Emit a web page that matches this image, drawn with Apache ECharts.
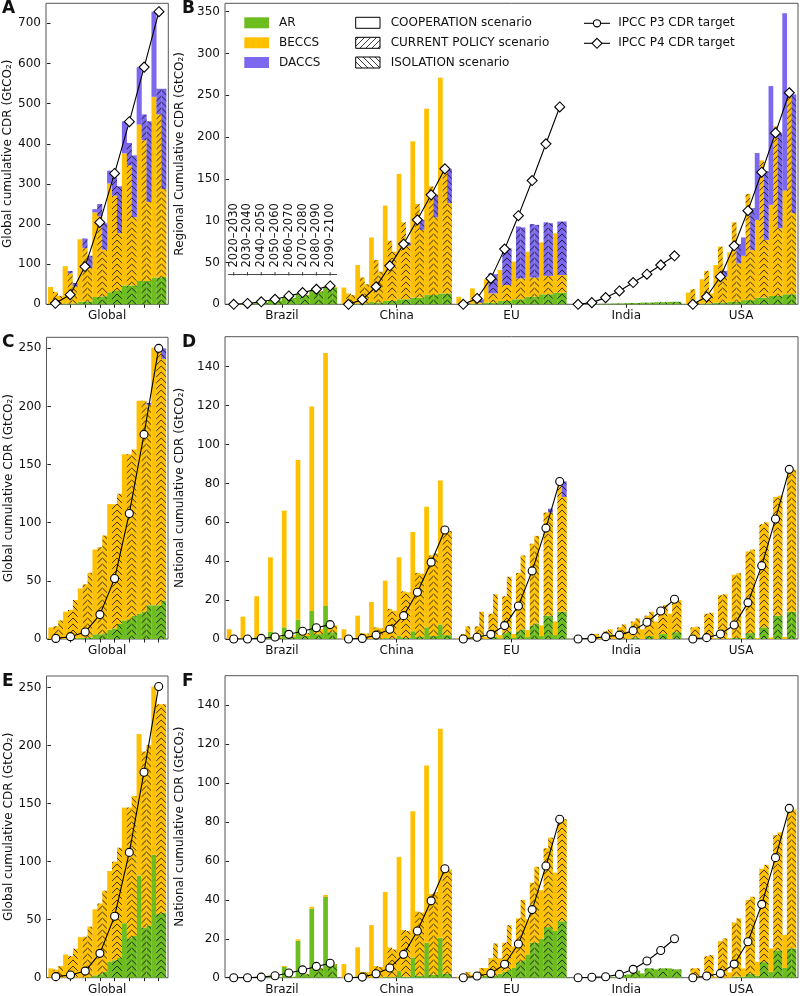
<!DOCTYPE html>
<html><head><meta charset="utf-8">
<script src="https://cdn.jsdelivr.net/npm/echarts@6.0.0/dist/echarts.min.js"></script>
<style>html,body{margin:0;padding:0;background:#fff;}#chart{width:800px;height:996px;}</style>
</head><body><div id="chart"></div>
<script>
// ---------------- categories / labels ----------------
const DECADES = ['2020–2030','2030–2040','2040–2050','2050–2060','2060–2070','2070–2080','2080–2090','2090–2100'];
const REGIONS = ['Brazil','China','EU','India','USA'];
const TECHS = ['AR','BECCS','DACCS'];
const SCENARIOS = ['COOPERATION scenario','CURRENT POLICY scenario','ISOLATION scenario'];
const TARGET_NAMES = ['IPCC P3 CDR target','IPCC P4 CDR target'];
const Y_TICKS_A = [0,100,200,300,400,500,600,700];
const Y_TICKS_B = [0,50,100,150,200,250,300,350];
const Y_TICK_LABELS_B = ['0','50','10','150','200','250','300','350'];
const Y_TICKS_CE = [0,50,100,150,200,250];
const Y_TICKS_DF = [0,20,40,60,80,100,120,140];

// ---------------- values (GtCO2) : [COOPERATION, CURRENT POLICY, ISOLATION] x 8 decades ----------------
// Panel A – Global, P4
const A_Global_AR    = [[1,2,6,18,30,47,58,67],[1,2,7,19,33,47,58,67],[1,2,7,20,35,47,58,68]];
const A_Global_BECCS = [[42,93,156,211,271,329,390,450],[30,75,133,200,238,299,351,406],[20,42,83,116,142,170,197,219]];
const A_Global_DACCS = [[0,0,0,8,32,80,143,212],[0,6,24,31,45,56,64,64],[0,9,31,66,117,154,201,250]];
const A_P4 = [2.5,24,94,204,326,455,591,729];

// Panel B – regional, P4
const B_Brazil_AR    = [[0.5,1,2.5,5,8,12,16,20],[0.3,0.8,2,4.5,7.5,11,15,19],[0.3,0.8,2,4.5,7.5,11,15,19.5]];
const B_Brazil_BECCS = [[0,0,0,0,0.3,0.5,1,1.5],[0,0,0,0,0.2,0.4,0.8,1],[0,0,0,0,0.2,0.4,0.8,1]];
const B_China_AR     = [[0.5,1,3,4,6,8,11,13],[0.5,1,2,4,6,8,11,13],[0.5,1,2,4,6,8,11,13]];
const B_China_BECCS  = [[19.5,46,77,114,150,187,223,258],[12.5,31,51,72,92,112,130,150],[10.5,23,37,59,64,81,93,108]];
const B_China_DACCS  = [[0,0,0,0,0,0,0,0],[0,0,0,0,0,0,0,0],[0,0,0,0,4,12,27,41]];
const B_EU_AR        = [[0.5,1,2,4,6,9,12,14],[0.3,0.5,2,4,6,9,12,14],[0.3,0.5,2,4,6,9,12,14]];
const B_EU_BECCS     = [[8.5,18,28,37,45,54,62,71],[0.7,1.5,11,19,25,23,22,21],[0.7,1.5,11,19,25,23,22,21]];
const B_EU_DACCS     = [[0,0,0,0,0,0,0,0],[1,4,24,45,62,64,64,64],[1,4,23,44,61,63,63,64]];
const B_India_AR     = [[0,0.3,0.6,1,1.5,2,2.5,3],[0,0.3,0.6,1,1.5,2,2.5,3],[0,0.3,0.6,1,1.5,2,2.5,3]];
const B_USA_AR       = [[0.5,1,2,3,5,8,10,12],[0.5,1,2,3,5,8,10,12],[0.5,1,2,3,5,8,10,12]];
const B_USA_BECCS    = [[13.5,29,45,59,53,93,109,124],[17.5,39,67,95,127,164,203,243],[2.5,12,31,46,60,69,81,97]];
const B_USA_DACCS    = [[0,0,0,0,22,80,142,212],[0,0,0,0,0,0,0,0],[0,0,7,23,50,82,114,142]];
const B_P4_Brazil = [0,1,3,6,10,14,18,22];
const B_P4_China  = [0,5.6,21,46,72,101,131,162];
const B_P4_EU     = [0,7,31,66,106,148,192,236];
const B_P4_India  = [0,2,8,16,26,36,47,58];
const B_P4_USA    = [0,9,33,70,112,158,205,253];

// Panel C – Global, P3
const C_Global_AR    = [[0,0,1,4,8,16,22,29],[0,0,1,4,9,17,23.5,29],[0,0.5,1.5,5,13,20,29,33]];
const C_Global_BECCS = [[10,23.5,42.5,73,108,143,183,221.5],[11,25,46,75,107,142,181.5,221.5],[16,33,55.5,84,112,143,172.5,208]];
const C_Global_DACCS = [[0,0,0,0,0,0,0,0],[0,0,0,0,0,0,0,0],[0,0,0,0,0,0,1.5,9]];
const C_P3 = [0.5,2,6,21,52,108,176,250];

// Panel D – national, P3
const D_Brazil_AR    = [[0,0.3,1,3.8,6,10,14.4,17],[0,0,0.2,0.5,1,1.5,2.5,3.5],[0,0,0.2,0.5,1,1.5,2.5,3.5]];
const D_Brazil_BECCS = [[5,11.2,21,38.2,60,82,105.1,130],[0.2,0.3,0.3,0.5,1,1.5,2.5,3.5],[0.2,0.3,0.3,0.5,1,1.5,2.5,3.5]];
const D_China_AR     = [[0,0,0,0.5,1.5,4,6,7.5],[0,0,0,0.3,0.5,1,1.5,2],[0,0,0,0.3,0.5,1,1.5,2]];
const D_China_BECCS  = [[5,12,19,29.5,40.5,51,62,74],[0.3,3,6,15.2,24,33,41.5,54],[0.3,2.8,5.5,14.2,23.5,32.5,42.5,53.5]];
const D_EU_AR        = [[0,0,0,0.3,0.5,1,1.5,2],[0,0,0.5,3,4,7,12,14],[0,0.3,1,4,5,8,12,14]];
const D_EU_BECCS     = [[0.5,1,1.2,1.7,2.1,3.6,5.5,7],[2.5,6.5,12.5,19,30,42,53,67],[6.5,13.7,22,28,38,45,53,59]];
const D_EU_DACCS     = [[0,0,0,0,0,0,0,0],[0,0,0,0,0,0,0,0],[0,0,0,0,0,0,2,8]];
const D_India_AR     = [[0,0,0,0,0,0,0,0],[0,0,0,0.3,0.8,1.5,2.5,3.5],[0,0,0,0.3,0.8,1.5,2.5,3.5]];
const D_India_BECCS  = [[0,0.5,1,2,3,5,9,13],[0.2,2,4,5.7,8.2,10.5,13.5,16.5],[0.5,2.6,5,7.2,9.8,12.5,15,16.5]];
const D_USA_AR       = [[0,0,0,0,0,0,0,0],[0,0,0,0.5,3,6,12,14],[0,0,0,0.5,3,6,12,14]];
const D_USA_BECCS    = [[0,0,0.2,0.3,0.5,0.5,0.8,1],[6,13,22.5,32.5,42,53,61,72.5],[6.3,13.5,23,33.3,43,54,61.7,73]];
const D_P3_Brazil = [0,0,0.3,1,2.4,4,5.8,7.4];
const D_P3_China  = [0,0.3,2,5,12,24,39.5,56];
const D_P3_EU     = [0,0.9,2.4,6.9,17,35,57,81];
const D_P3_India  = [0,0.3,1.2,2,4.3,8.6,14.4,20.4];
const D_P3_USA    = [0,0.7,2.6,7.2,18.7,37.7,61.7,87.2];

// Panel E – Global, P3
const E_Global_AR    = [[0,0,0,2,14,47,88,106],[0,0,0,3,15,34,43,55],[0,0,0.5,5,17,36,45,56]];
const E_Global_BECCS = [[8,20,35,57,78,99.6,122,145],[7,18.7,35.4,61,85,112.6,152,180.7],[10,25,43.5,70,95,120.6,155.6,179.7]];
const E_P3 = [0.9,2.3,5.7,21,53,108,177,251];

// Panel F – national, P3
const F_Brazil_AR    = [[0,0,0.3,0.7,5.5,19,35.5,41.5],[0,0,0,0.2,0.4,1.8,4.2,6.5],[0,0,0,0.2,0.4,1.8,4.7,6.5]];
const F_Brazil_BECCS = [[0,0,0.2,0.3,0.5,0.7,1,1],[0,0,0,0.1,0.1,0.2,0.3,0.5],[0,0,0,0.1,0.1,0.2,0.3,0.5]];
const F_China_AR     = [[0,0,0,0.5,3.4,10.4,18,20.5],[0,0,0,0.3,0.5,1,1.5,2],[0,0,0,0.3,0.5,1,1.5,2]];
const F_China_BECCS  = [[7,15.6,27,43.5,58.6,75.2,91,107.5],[0.3,3,6,15.2,24,33,41.5,54],[0.3,2.8,5.5,14.2,23.5,32.5,42.5,53.5]];
const F_EU_AR        = [[0,0.3,1,2,5,12,20,24],[0,0,0.5,3,8,18,26,29],[0,0.3,1,4,9,18,26,29]];
const F_EU_BECCS     = [[0.5,1.2,4,8,11,18,25,30],[1.5,3,9.5,15,22.5,30.8,40.5,52.4],[3,4.7,16.6,23,31,39,46,52.4]];
const F_India_AR     = [[0,0,0,0.5,1.7,2.2,4.3,4.8],[0,0,0.2,1.4,3.6,4.8,4.8,4.3],[0,0,0.2,1.4,3.6,4.8,4.8,4.3]];
const F_USA_AR       = [[0,0,0,0,0.5,1,3,5],[0,0,0,0.5,2,8,14,15],[0,0,0,0.5,2,8,14,15]];
const F_USA_BECCS    = [[0,0,0.5,2.7,4.3,7.2,12,17],[4.8,11,18.8,27.9,38,48,59.3,72],[4.8,11.6,20.2,30,39.6,50,60.7,71.5]];
const F_P3_Brazil = [0,0,0.3,1,2.4,4,5.8,7.4];
const F_P3_China  = [0,0.3,2,5,12,24,39.5,56];
const F_P3_EU     = [0,0.9,2.2,6.9,17.3,35,57.4,81.4];
const F_P3_India  = [0,0.2,0.5,1.7,4.3,8.6,14,20];
const F_P3_USA    = [0,0.9,2.2,7,18.5,37.7,61.7,87];

// ---------------- tables built from the arrays ----------------
const BARS = {
  A:{Global:{AR:A_Global_AR,BECCS:A_Global_BECCS,DACCS:A_Global_DACCS}},
  B:{Brazil:{AR:B_Brazil_AR,BECCS:B_Brazil_BECCS},China:{AR:B_China_AR,BECCS:B_China_BECCS,DACCS:B_China_DACCS},
     EU:{AR:B_EU_AR,BECCS:B_EU_BECCS,DACCS:B_EU_DACCS},India:{AR:B_India_AR},USA:{AR:B_USA_AR,BECCS:B_USA_BECCS,DACCS:B_USA_DACCS}},
  C:{Global:{AR:C_Global_AR,BECCS:C_Global_BECCS,DACCS:C_Global_DACCS}},
  D:{Brazil:{AR:D_Brazil_AR,BECCS:D_Brazil_BECCS},China:{AR:D_China_AR,BECCS:D_China_BECCS},
     EU:{AR:D_EU_AR,BECCS:D_EU_BECCS,DACCS:D_EU_DACCS},India:{AR:D_India_AR,BECCS:D_India_BECCS},USA:{AR:D_USA_AR,BECCS:D_USA_BECCS}},
  E:{Global:{AR:E_Global_AR,BECCS:E_Global_BECCS}},
  F:{Brazil:{AR:F_Brazil_AR,BECCS:F_Brazil_BECCS},China:{AR:F_China_AR,BECCS:F_China_BECCS},
     EU:{AR:F_EU_AR,BECCS:F_EU_BECCS},India:{AR:F_India_AR},USA:{AR:F_USA_AR,BECCS:F_USA_BECCS}}
};
const TARGETS = {
  A:{Global:A_P4},
  B:{Brazil:B_P4_Brazil,China:B_P4_China,EU:B_P4_EU,India:B_P4_India,USA:B_P4_USA},
  C:{Global:C_P3},
  D:{Brazil:D_P3_Brazil,China:D_P3_China,EU:D_P3_EU,India:D_P3_India,USA:D_P3_USA},
  E:{Global:E_P3},
  F:{Brazil:F_P3_Brazil,China:F_P3_China,EU:F_P3_EU,India:F_P3_India,USA:F_P3_USA}
};

// ---------------- layout / style ----------------
const FONT = 'DejaVu Sans';
const COLORS = {AR:'#6cbd1d', BECCS:'#ffc000', DACCS:'#7b68ee'};
const PANELS = [
  {id:'A', grid:{left:46,top:3.3,width:122.3,height:301}, regions:['Global'], ymax:750, yticks:Y_TICKS_A, yname:'Global cumulative CDR (GtCO₂)', gap:31, marker:'diamond'},
  {id:'B', grid:{left:225,top:3.3,width:573,height:301}, regions:REGIONS, ymax:360, yticks:Y_TICKS_B, ylabels:Y_TICK_LABELS_B, yname:'Regional Cumulative CDR (GtCO₂)', gap:30, marker:'diamond'},
  {id:'C', grid:{left:46.5,top:337.3,width:121.5,height:301.7}, regions:['Global'], ymax:259.5, yticks:Y_TICKS_CE, yname:'Global cumulative CDR (GtCO₂)', gap:31, marker:'circle'},
  {id:'D', grid:{left:225,top:336.7,width:573,height:302.3}, regions:REGIONS, ymax:155.4, yticks:Y_TICKS_DF, yname:'National cumulative CDR (GtCO₂)', gap:30, marker:'circle'},
  {id:'E', grid:{left:46.5,top:676,width:121.5,height:301.7}, regions:['Global'], ymax:260, yticks:Y_TICKS_CE, yname:'Global cumulative CDR (GtCO₂)', gap:31, marker:'circle'},
  {id:'F', grid:{left:225,top:675.7,width:573,height:302}, regions:REGIONS, ymax:155.2, yticks:Y_TICKS_DF, yname:'National cumulative CDR (GtCO₂)', gap:30, marker:'circle'}
];

function slotX(r, d, s) { return r * 25 + d * 3 + s; }

// hatch canvases
const HATCH = 6;
function hatchCanvas(bg, dir) {
  const c = document.createElement('canvas');
  c.width = HATCH; c.height = HATCH;
  const g = c.getContext('2d');
  g.fillStyle = bg; g.fillRect(0, 0, HATCH, HATCH);
  g.strokeStyle = 'rgba(0,0,0,0.85)'; g.lineWidth = 0.9;
  g.beginPath();
  const s = HATCH;
  if (dir === '/') {
    g.moveTo(-1, s + 1); g.lineTo(s + 1, -1);
    g.moveTo(-1, 1); g.lineTo(1, -1);
    g.moveTo(s - 1, s + 1); g.lineTo(s + 1, s - 1);
  } else {
    g.moveTo(-1, -1); g.lineTo(s + 1, s + 1);
    g.moveTo(s - 1, -1); g.lineTo(s + 1, 1);
    g.moveTo(-1, s - 1); g.lineTo(1, s + 1);
  }
  g.stroke();
  return c;
}
const CANV = {};
TECHS.concat(['white']).forEach(t => {
  const col = COLORS[t] || '#ffffff';
  CANV[t] = {'/': hatchCanvas(col, '/'), '\\': hatchCanvas(col, '\\')};
});

const grids = [], xAxes = [], yAxes = [], series = [];
PANELS.forEach((p, gi) => {
  const nReg = p.regions.length;
  const xmin = -0.9, xmax = (nReg - 1) * 25 + 23 + 0.9;
  const slotPx = p.grid.width / (xmax - xmin);
  grids.push(Object.assign({show:true, borderColor:'#555', borderWidth:1, containLabel:false}, p.grid));
  const tickVals = nReg === 1 ? DECADES.map((_, d) => slotX(0, d, 1)) : p.regions.map((_, r) => r * 25 + 11.5);
  const labVals = p.regions.map((_, r) => r * 25 + 11.5);
  xAxes.push({
    gridIndex: gi, type:'value', min:xmin, max:xmax,
    axisLine:{show:false}, splitLine:{show:false},
    axisTick:{show:true, length:3.5, customValues:tickVals, lineStyle:{color:'#222', width:1}},
    axisLabel:{customValues:labVals, margin:6, fontSize:12, color:'#111', fontFamily:FONT,
      formatter: v => { const i = Math.round((v - 11.5) / 25); return nReg === 1 ? 'Global' : p.regions[i]; }}
  });
  yAxes.push({
    gridIndex: gi, type:'value', min:0, max:p.ymax,
    axisLine:{show:false}, splitLine:{show:false},
    axisTick:{show:true, length:3.5, customValues:p.yticks, lineStyle:{color:'#222', width:1}},
    axisLabel:{customValues:p.yticks, margin:5, fontSize:12, color:'#111', fontFamily:FONT,
      formatter: v => { const i = p.yticks.indexOf(v); return p.ylabels ? p.ylabels[i] : String(v); }},
    name:p.yname, nameLocation:'middle', nameGap:p.gap,
    nameTextStyle:{fontSize:12, color:'#111', fontFamily:FONT}
  });
  TECHS.forEach(tech => {
    const data = [];
    p.regions.forEach((reg, r) => {
      const arr = (BARS[p.id][reg] || {})[tech];
      for (let d = 0; d < 8; d++) {
        const bx = p.grid.left + (slotX(r, d, 1) + 0.5 - xmin) * slotPx; // cur/iso boundary px
        for (let s = 0; s < 3; s++) {
          const v = arr ? arr[s][d] : 0;
          let color = COLORS[tech];
          if (s === 1) color = {image: CANV[tech]['/'], repeat:'repeat', x: bx, y: 0};
          if (s === 2) color = {image: CANV[tech]['\\'], repeat:'repeat', x: bx, y: 0};
          data.push({value:[v, slotX(r, d, s)], itemStyle:{color}});
        }
      }
    });
    series.push({
      type:'bar', name:tech, xAxisIndex:gi, yAxisIndex:gi, stack:'stk' + gi,
      encode:{x:1, y:0}, barWidth:slotPx + 0.15, data, silent:true, z:2
    });
  });
  p.regions.forEach((reg, r) => {
    const t = TARGETS[p.id][reg];
    series.push({
      type:'line', xAxisIndex:gi, yAxisIndex:gi, silent:true, z:5,
      data: t.map((v, d) => [slotX(r, d, 1), v]),
      symbol:p.marker, symbolSize: p.marker === 'diamond' ? 10 : 8,
      itemStyle:{color:'#fff', borderColor:'#000', borderWidth:1.1},
      lineStyle:{color:'#000', width:1.1}
    });
  });
});

const chart = echarts.init(document.getElementById('chart'), null, {renderer:'canvas', width:800, height:996});
chart.setOption({
  animation:false, backgroundColor:'#fff',
  textStyle:{fontFamily:FONT},
  grid:grids, xAxis:xAxes, yAxis:yAxes, series
});

// ---------------- graphics: letters, legend, decade key ----------------
const G = [];
function txt(x, y, text, opt) {
  opt = opt || {};
  G.push({type:'text', x, y, rotation: opt.rot || 0, z:100, silent:true,
    style:{text, fill:'#111', font:(opt.weight || 'normal') + ' ' + (opt.size || 12) + 'px "' + FONT + '"',
      align: opt.align || 'left', verticalAlign: opt.va || 'middle',
      textAlign: opt.align || 'left', textVerticalAlign: opt.va || 'middle'}});
}
[['A',2,9],['B',182,9],['C',2,343],['D',182,343],['E',2,682],['F',182,682]].forEach(([l, x, y]) => txt(x, y, l, {size:17, weight:'bold'}));

// legend in panel B
const rows = [22.8, 42.8, 62.5];
TECHS.forEach((t, i) => {
  G.push({type:'rect', z:100, silent:true, shape:{x:244.3, y:rows[i] - 5.5, width:24.7, height:11}, style:{fill:COLORS[t]}});
  txt(279, rows[i] + 0.5, t);
});
SCENARIOS.forEach((s, i) => {
  const fill = i === 0 ? '#fff' : {image: CANV.white[i === 1 ? '/' : '\\'], repeat:'repeat', x:0, y:0};
  G.push({type:'rect', z:100, silent:true, shape:{x:355.7, y:rows[i] - 5.5, width:24.3, height:11}, style:{fill, stroke:'#000', lineWidth:1}});
  txt(390.7, rows[i] + 0.5, s);
});
[0, 1].forEach(i => {
  const y = rows[i] + 0.5;
  G.push({type:'line', z:100, silent:true, shape:{x1:584, y1:y, x2:610, y2:y}, style:{stroke:'#000', lineWidth:1.1}});
  if (i === 0) G.push({type:'circle', z:101, silent:true, shape:{cx:597, cy:y, r:3.6}, style:{fill:'#fff', stroke:'#000', lineWidth:1.1}});
  else G.push({type:'polygon', z:101, silent:true, shape:{points:[[597, y - 5],[602, y],[597, y + 5],[592, y]]}, style:{fill:'#fff', stroke:'#000', lineWidth:1.1}});
  txt(618.3, y, TARGET_NAMES[i]);
});

// decade key above the Brazil group in panel B
const keyY = 274.5;
const kx0 = chart.convertToPixel({xAxisIndex:1}, -0.2);
const kx1 = chart.convertToPixel({xAxisIndex:1}, 23.5);
G.push({type:'line', z:100, silent:true, shape:{x1:kx0, y1:keyY, x2:kx1, y2:keyY}, style:{stroke:'#333', lineWidth:0.9}});
DECADES.forEach((lab, d) => {
  const x = chart.convertToPixel({xAxisIndex:1}, slotX(0, d, 1));
  G.push({type:'line', z:100, silent:true, shape:{x1:x, y1:keyY - 2.5, x2:x, y2:keyY + 1}, style:{stroke:'#333', lineWidth:0.9}});
  txt(x, keyY - 7, lab, {rot:Math.PI / 2, size:11.5});
});
chart.setOption({graphic:{elements:G}});
</script>
</body></html>
